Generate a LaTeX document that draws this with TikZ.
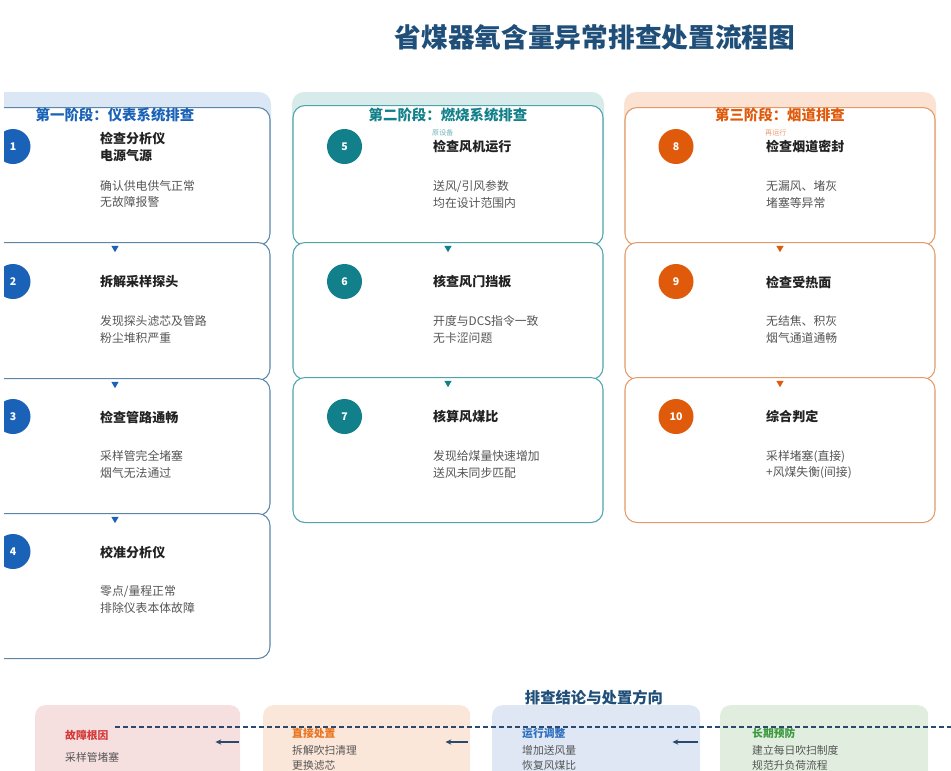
\documentclass[tikz,border=0pt]{standalone}
\usepackage{fontspec}
\setmainfont{Noto Sans CJK SC}
\usepackage{tikz}
\usetikzlibrary{calc}
\usetikzlibrary{shapes}
\usetikzlibrary{arrows.meta}

\definecolor{titleblue}{HTML}{1F4E79}
\definecolor{stepink}{HTML}{222222}
\definecolor{bodygray}{HTML}{555555}
\definecolor{navy}{HTML}{2B4A6B}
\definecolor{oneline}{HTML}{5A86A8}
\definecolor{onefill}{HTML}{DCE7F5}
\definecolor{onedark}{HTML}{1A62B8}
\definecolor{twoline}{HTML}{4FA3AB}
\definecolor{twofill}{HTML}{D6EBEA}
\definecolor{twodark}{HTML}{12808A}
\definecolor{threeline}{HTML}{E39A68}
\definecolor{threefill}{HTML}{FBE2D2}
\definecolor{threedark}{HTML}{E05A0C}
\definecolor{causefill}{HTML}{F6DFDF}
\definecolor{causeink}{HTML}{D43A3A}
\definecolor{directfill}{HTML}{FBE7DA}
\definecolor{directink}{HTML}{EA7420}
\definecolor{adjustfill}{HTML}{DEE7F3}
\definecolor{adjustink}{HTML}{2F6FC0}
\definecolor{preventfill}{HTML}{E1EEDF}
\definecolor{preventink}{HTML}{3D9A40}

\newcommand{\pxu}{0.03cm}
\newcommand{\card}[4]{\node[card, draw=#4, minimum width=310*\pxu, minimum height=#3*\pxu] (#1) at #2 {};}
\newcommand{\badge}[4]{\node[badge, fill=#4] (badge#1) at (#2,#3) {#1};}
\newcommand{\stepitem}[5]{\node[steptitle] (title#1) at (#2,#3) {#4}; \node[stepbody] (body#1) at (#2,#3+47.5) {#5};}

\begin{document}
\begin{tikzpicture}[x=0.03cm, y=-0.03cm,
    card/.style={rectangle, rounded corners=0.36cm, fill=white, line width=0.9pt, inner sep=0, anchor=north},
    badge/.style={circle, minimum size=1.05cm, inner sep=0, text=white, font=\bfseries\fontsize{9}{10}\selectfont},
    marker/.style={regular polygon, regular polygon sides=3, shape border rotate=180, minimum size=0.25cm, inner sep=0},
    phase/.style={inner sep=0, font=\bfseries\fontsize{12.3}{14}\selectfont},
    steptitle/.style={anchor=west, align=left, inner sep=0, text=stepink, font=\bfseries\fontsize{11.1}{14.5}\selectfont},
    stepbody/.style={anchor=west, align=left, inner sep=0, text=bodygray, font=\fontsize{10.1}{13.8}\selectfont},
    ghost/.style={anchor=west, inner sep=0, font=\fontsize{6}{7}\selectfont},
    outcome/.style={rectangle, rounded corners=0.3cm, anchor=north west, minimum height=3cm, inner sep=0},
    outhead/.style={anchor=west, inner sep=0, font=\bfseries\fontsize{9.2}{11}\selectfont},
    outbody/.style={anchor=west, align=left, inner sep=0, text=bodygray, font=\fontsize{9.2}{12.8}\selectfont},
    flow/.style={-{Stealth[length=5pt,width=4.5pt]}, navy, line width=1.1pt}]
    \useasboundingbox (0,0) rectangle (951,770);
    \clip (4,0) rectangle (951,770);

    % title
    \node[text=titleblue, font=\bfseries\fontsize{22.8}{26}\selectfont] (heading) at (595,37) {省煤器氧含量异常排查处置流程图};

    % panels
    \fill[onefill, rounded corners=0.36cm] (-40,92) rectangle (271,170);
    \fill[twofill, rounded corners=0.36cm] (292,92) rectangle (604,170);
    \fill[threefill, rounded corners=0.36cm] (624,92) rectangle (936,170);

    % column 1
    \card{c1}{(115,107)}{138}{oneline}
    \card{c2}{(115,242)}{138}{oneline}
    \card{c3}{(115,378)}{137}{oneline}
    \card{c4}{(115,513)}{145}{oneline}
    % column 2
    \card{c5}{(448,105)}{140}{twoline}
    \card{c6}{(448,242)}{137}{twoline}
    \card{c7}{(448,377)}{145}{twoline}
    % column 3
    \card{c8}{(780,107)}{138}{threeline}
    \card{c9}{(780,242)}{137}{threeline}
    \card{c10}{(780,377)}{145}{threeline}

    % markers
    \node[marker, fill=onedark] (m2) at ($(c2.north)+(0,6)$) {};
    \node[marker, fill=onedark] (m3) at ($(c3.north)+(0,6)$) {};
    \node[marker, fill=onedark] (m4) at ($(c4.north)+(0,6)$) {};
    \node[marker, fill=twodark] (m6) at ($(c6.north)+(0,6)$) {};
    \node[marker, fill=twodark] (m7) at ($(c7.north)+(0,6)$) {};
    \node[marker, fill=threedark] (m9) at ($(c9.north)+(0,6)$) {};
    \node[marker, fill=threedark] (m10) at ($(c10.north)+(0,6)$) {};

    % phase headers
    \node[phase, text=onedark] (phase1) at (115,115) {第一阶段：仪表系统排查};
    \node[phase, text=twodark] (phase2) at (448,115) {第二阶段：燃烧系统排查};
    \node[phase, text=threedark] (phase3) at (780,115) {第三阶段：烟道排查};
    \node[ghost, text=twodark!60] (ghost2) at (432,133) {原设备};
    \node[ghost, text=threedark!60] (ghost3) at (765,133) {再运行};

    % badges
    \badge{1}{13}{146.5}{onedark}
    \badge{2}{13}{281.5}{onedark}
    \badge{3}{13}{416.5}{onedark}
    \badge{4}{13}{551.5}{onedark}
    \badge{5}{344.5}{146.5}{twodark}
    \badge{6}{344.5}{281.5}{twodark}
    \badge{7}{344.5}{416.5}{twodark}
    \badge{8}{676}{146.5}{threedark}
    \badge{9}{676}{281.5}{threedark}
    \badge{10}{676}{416.5}{threedark}

    % step texts
    \stepitem{1}{100}{146.5}{检查分析仪\\电源气源}{确认供电供气正常\\无故障报警}
    \stepitem{2}{100}{282}{拆解采样探头}{发现探头滤芯及管路\\粉尘堆积严重}
    \stepitem{3}{100}{417}{检查管路通畅}{采样管完全堵塞\\烟气无法通过}
    \stepitem{4}{100}{552}{校准分析仪}{零点/量程正常\\排除仪表本体故障}
    \stepitem{5}{433}{147}{检查风机运行}{送风/引风参数\\均在设计范围内}
    \stepitem{6}{433}{282}{核查风门挡板}{开度与DCS指令一致\\无卡涩问题}
    \stepitem{7}{433}{417}{核算风煤比}{发现给煤量快速增加\\送风未同步匹配}
    \stepitem{8}{766}{147}{检查烟道密封}{无漏风、堵灰\\堵塞等异常}
    \stepitem{9}{766}{282}{检查受热面}{无结焦、积灰\\烟气通道通畅}
    \stepitem{10}{766}{417}{综合判定}{采样堵塞(直接)\\+风煤失衡(间接)}

    % conclusions
    \node[text=titleblue, font=\bfseries\fontsize{13.1}{15}\selectfont] (outlook) at (594,698) {排查结论与处置方向};
    \node[outcome, fill=causefill, minimum width=205*\pxu] (cause) at (35,705) {};
    \node[outcome, fill=directfill, minimum width=207*\pxu] (direct) at (263,705) {};
    \node[outcome, fill=adjustfill, minimum width=208*\pxu] (adjust) at (492,705) {};
    \node[outcome, fill=preventfill, minimum width=208*\pxu] (prevent) at (720,705) {};

    \node[outhead, text=causeink] (causehead) at (65,735) {故障根因};
    \node[outbody] (causebody) at (65,757) {采样管堵塞};
    \node[outhead, text=directink] (directhead) at (292,733) {直接处置};
    \node[outbody] (directbody) at (292,757.5) {拆解吹扫清理\\更换滤芯};
    \node[outhead, text=adjustink] (adjusthead) at (522,733) {运行调整};
    \node[outbody] (adjustbody) at (522,757.5) {增加送风量\\恢复风煤比};
    \node[outhead, text=preventink] (preventhead) at (752,733) {长期预防};
    \node[outbody] (preventbody) at (752,757.5) {建立每日吹扫制度\\规范升负荷流程};

    % connectors
    \coordinate (arrowrow) at (0,742);
    \coordinate (dashstart) at (115,727);
    \coordinate (dashend) at (951,727);
    \draw[navy, line width=0.9pt, dash pattern=on 0.15cm off 0.09cm] (dashstart) -- (dashend);
    \draw[flow] ($(cause.east |- arrowrow)+(-1,0)$) -- ++(-24,0);
    \draw[flow] ($(direct.east |- arrowrow)+(-2,0)$) -- ++(-23,0);
    \draw[flow] ($(adjust.east |- arrowrow)+(-2,0)$) -- ++(-26,0);
\end{tikzpicture}
\end{document}
